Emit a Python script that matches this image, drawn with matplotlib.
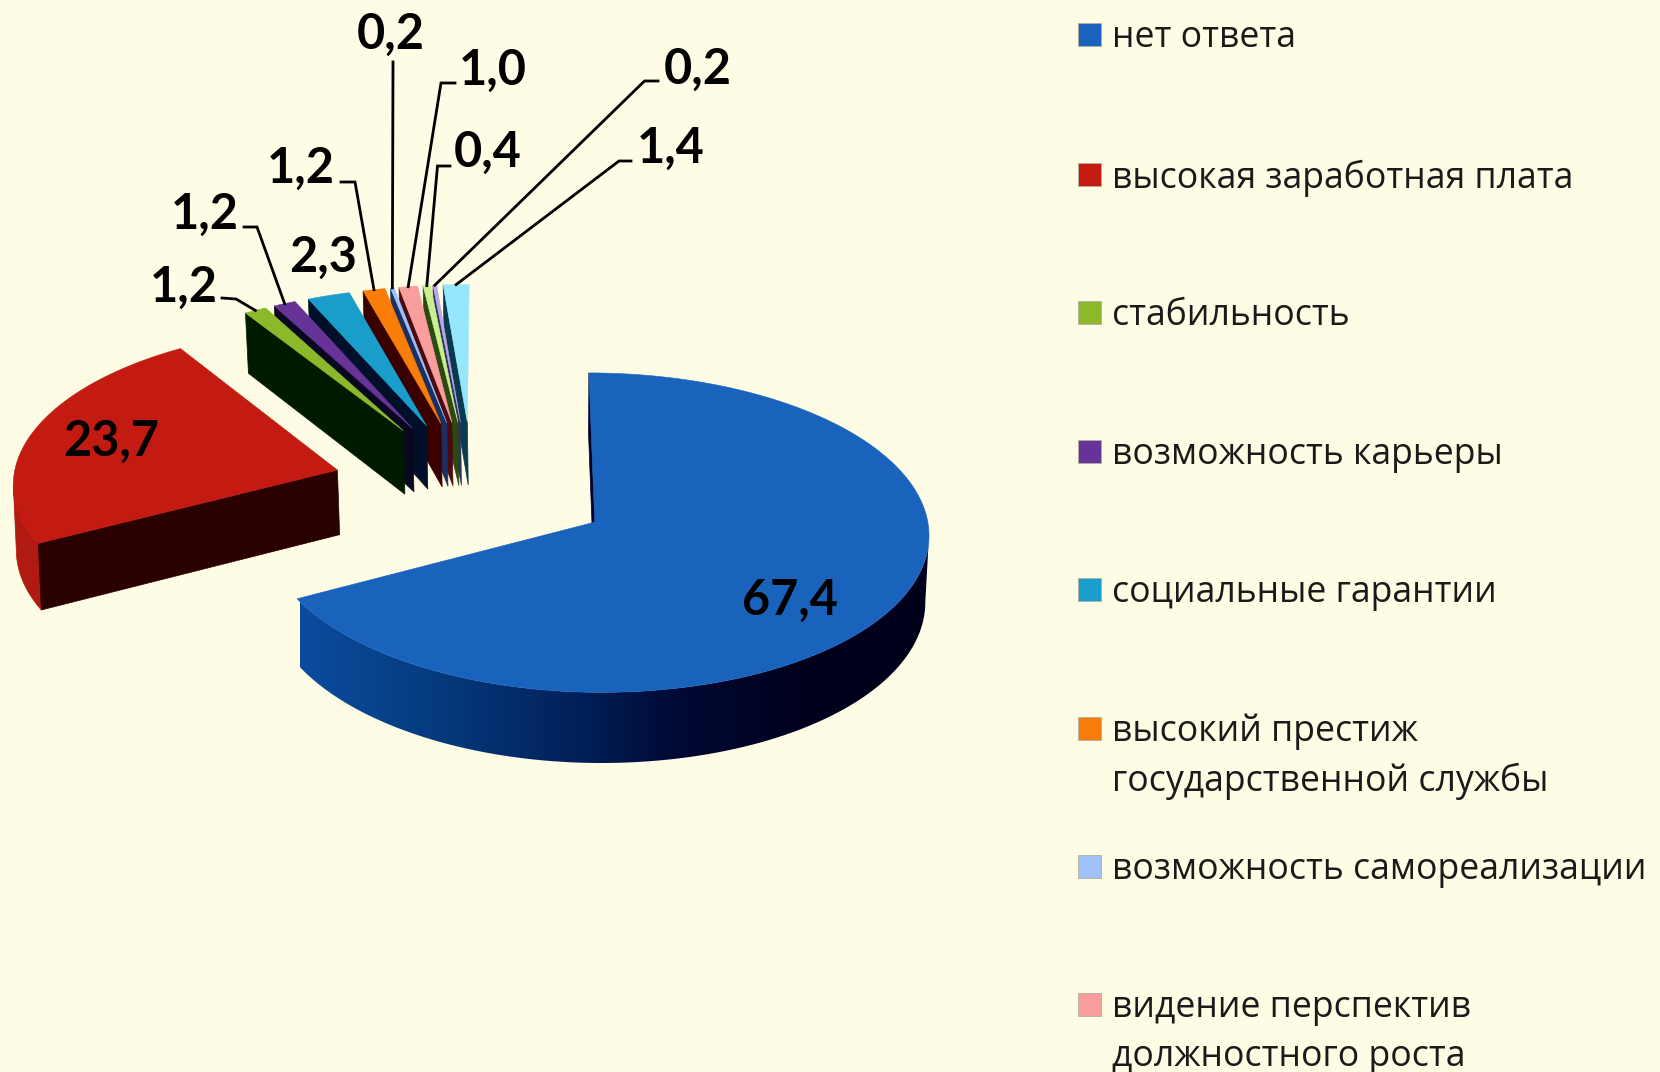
import numpy as np
import matplotlib
matplotlib.use('Agg')
import matplotlib.pyplot as plt
from matplotlib.patches import Polygon, Rectangle
from matplotlib.colors import LinearSegmentedColormap

# data
values = [67.4, 23.7, 1.2, 1.2, 2.3, 1.2, 0.2, 1.0, 0.4, 0.2, 1.4]
value_labels = ['67,4', '23,7', '1,2', '1,2', '2,3', '1,2', '0,2', '1,0', '0,4', '0,2', '1,4']
legend_labels = ['нет ответа', 'высокая заработная плата', 'стабильность', 'возможность карьеры',
                 'социальные гарантии', 'высокий престиж\nгосударственной службы',
                 'возможность самореализации', 'видение перспектив\nдолжностного роста']

top_colors = ['#1a63bd', '#c31a12', '#8cb92c', '#673399', '#1a9dcb', '#f97d09',
              '#9fc3f8', '#f99d9d', '#c9ef8e', '#b9a8e2', '#97e7fc']
side_colors = ['#00002a', '#2a0000', '#001a00', '#08081f', '#001028', '#3a0000',
               '#1a3060', '#4a0a10', '#2a4a10', '#303060', '#0a3a50']
BG = '#fefce4'
RED_RIM = '#b01a10'

# label layout in pixels
label_pos = [(790, 600), (111, 441), (184, 287), (205, 214), (323, 257), (301, 168),
             (391, 34), (493, 70), (488, 152), (698, 69), (671, 148)]
# start of leader (next to text) and knee, None where the label has no leader
leader_start = [None, None, (222, 298), (244, 227), None, (341, 182),
                (393, 62), (455, 83), (450, 166), (658, 81), (631, 161)]
leader_knee = [None, None, (236, 299), (257, 227), None, (355, 182),
               (393, 62), (441, 83), (437.5, 166), (644.5, 81), (619, 161)]
legend_y = [35, 175, 313, 452, 590, 729, 867, 1005]

# pie geometry, pixels
RX, RY = 333.0, 159.0
EXPLODE = 0.434
CENTER = (-124.0, 35.5)
X0, Y0, VX = 595.0, 522.0, 498.0
K = 0.0658 / RY
DEPTH = 66.0
LEFT_SQUEEZE = 0.99

rim_cmap = LinearSegmentedColormap.from_list('rim', [
    (0.0, '#0b4c9e'), (0.2, '#053c80'), (0.44, '#02205a'),
    (0.59, '#000a35'), (0.8, '#00001e'), (1.0, '#00001a')])


def project(X, Y):
    X = np.asarray(X, dtype=float)
    Y = np.asarray(Y, dtype=float)
    w = 1 + K * Y
    x = VX + (X + X0 - VX) / w
    x = np.where(x < X0, X0 - (X0 - x) * LEFT_SQUEEZE, x)
    return x, Y0 - Y / w, w


def top_face(X, Y):
    x, y, w = project(X, Y)
    return np.column_stack([x, y])


def bottom_face(X, Y):
    x, y, w = project(X, Y)
    # bottom is a touch narrower on the right, a small shift on the left
    bx = np.where(x > 560, 560 + (x - 560) * 0.99, x + np.minimum(3, (560 - x) * 0.01))
    return np.column_stack([bx, y + DEPTH / w])


def draw_slice(ax, start, span, i):
    mid = np.radians(start + span / 2)
    ax0 = CENTER[0] + EXPLODE * RX * np.sin(mid)
    ay0 = CENTER[1] + EXPLODE * RY * np.cos(mid)
    t = np.radians(np.linspace(start, start + span, max(int(span * 2), 4)))
    arc_x = ax0 + RX * np.sin(t)
    arc_y = ay0 + RY * np.cos(t)

    # outer rim, only the two big slices show it, front part of the arc only
    tops = top_face(arc_x, arc_y)
    bots = bottom_face(arc_x, arc_y)
    if i == 0:
        a = np.argmax(tops[:, 0])
        outline = np.vstack([tops[a:], bots[a:][::-1]])
        grad = np.linspace(0, 1, 512).reshape(1, -1)
        im = ax.imshow(grad, cmap=rim_cmap, extent=(300, 930, 800, 300), aspect='auto',
                       vmin=0, vmax=1, interpolation='bilinear')
        clip = Polygon(outline, closed=True, transform=ax.transData)
        im.set_clip_path(clip)
    elif i == 1:
        b = np.argmin(tops[:, 0]) + 1
        outline = np.vstack([tops[:b], bots[:b][::-1]])
        ax.add_patch(Polygon(outline, closed=True, facecolor=RED_RIM, edgecolor=RED_RIM, linewidth=0.5))

    # inner wall on the start side
    wx = np.array([ax0, arc_x[0]])
    wy = np.array([ay0, arc_y[0]])
    wt = top_face(wx, wy)
    wb = bottom_face(wx, wy)
    ax.add_patch(Polygon([wt[0], wt[1], wb[1], wb[0]], closed=True,
                         facecolor=side_colors[i], edgecolor=side_colors[i], linewidth=0.5))

    # top surface
    face = top_face(np.r_[ax0, arc_x], np.r_[ay0, arc_y])
    ax.add_patch(Polygon(face, closed=True, facecolor=top_colors[i], edgecolor=top_colors[i], linewidth=0.4))

    # middle of the arc, where the leader ends
    tip = top_face(ax0 + RX * np.sin(mid), ay0 + RY * np.cos(mid))
    return tip[0]


fig = plt.figure(figsize=(16.6, 10.72), dpi=100, facecolor=BG)
ax = fig.add_axes([0, 0, 1, 1])
ax.axis('off')

spans = np.array(values) / sum(values) * 360
starts = np.r_[0, np.cumsum(spans)[:-1]]

tips = {}
for i in range(len(values) - 1, -1, -1):
    tips[i] = draw_slice(ax, starts[i], spans[i], i)

ax.set_xlim(0, 1660)
ax.set_ylim(1072, 0)

for i, lab in enumerate(value_labels):
    ax.text(label_pos[i][0], label_pos[i][1], lab, fontsize=35, fontweight='bold',
            family=['Lato', 'DejaVu Sans'], ha='center', va='center', color='black', zorder=5)
    if leader_start[i] is not None:
        xs = [leader_start[i][0], leader_knee[i][0], tips[i][0]]
        ys = [leader_start[i][1], leader_knee[i][1], tips[i][1]]
        ax.plot(xs, ys, color='black', linewidth=2.0, solid_joinstyle='miter', zorder=4)

for i, lab in enumerate(legend_labels):
    ax.add_patch(Rectangle((1078, legend_y[i] - 12), 23, 23, facecolor=top_colors[i],
                           edgecolor='#b0b0a0', linewidth=0.6))
    ax.text(1112, legend_y[i] + 3, lab.split('\n')[0], fontsize=25.7, family=['Open Sans', 'DejaVu Sans'],
            ha='left', va='center', color='#1a1a1a')
    if '\n' in lab:
        ax.text(1112, legend_y[i] + 52, lab.split('\n')[1], fontsize=25.7, family=['Open Sans', 'DejaVu Sans'],
                ha='left', va='center', color='#1a1a1a')

fig.savefig('out.png', dpi=100, facecolor=BG)
